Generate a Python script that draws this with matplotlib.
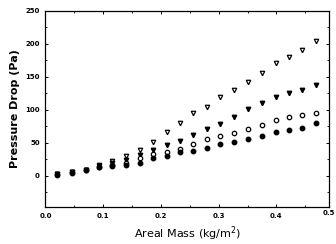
import matplotlib
matplotlib.use("Agg")
import matplotlib.pyplot as plt
from matplotlib.ticker import MultipleLocator

areal_mass = [0.0205, 0.0453, 0.0697, 0.0932, 0.116, 0.140, 0.163, 0.187, 0.210, 0.233,
              0.256, 0.279, 0.303, 0.327, 0.350, 0.375, 0.399, 0.422, 0.445, 0.468]
open_tri = [2.5, 5.5, 9.5, 17, 23, 31, 39, 51, 66, 81, 95, 104, 119, 131, 142, 156, 171, 181, 191, 204]
filled_tri = [2.5, 5.5, 9, 15, 19, 24, 32, 39, 47, 53, 62, 71, 79, 90, 101, 110, 119, 125, 131, 138]
open_circ = [2.5, 5.5, 9, 14, 17, 20, 27, 34, 36, 41, 49, 56, 61, 65, 71, 78, 85, 89, 92, 96]
filled_circ = [2, 5, 8.5, 13, 15, 17, 20, 27, 30, 37, 38, 43, 48, 52, 56, 61, 66, 70, 73, 80]

xticks = [0.0, 0.1, 0.2, 0.3, 0.4]
xtick_labels = ["0.0", "0.1", "0.2", "0.3", "0.4"]
yticks = [0, 50, 100, 150, 200, 250]

fig = plt.figure(figsize=(3.36, 2.44), dpi=100)
ax = fig.add_axes([0.1354, 0.1516, 0.979 - 0.1354, 0.955 - 0.1516])

ms = 3.2
ax.plot(areal_mass, open_tri, linestyle="none", marker="v", markersize=ms,
        markerfacecolor="white", markeredgecolor="black", markeredgewidth=0.9)
ax.plot(areal_mass, filled_tri, linestyle="none", marker="v", markersize=ms,
        color="black")
ax.plot(areal_mass, open_circ, linestyle="none", marker="o", markersize=ms,
        markerfacecolor="white", markeredgecolor="black", markeredgewidth=0.9)
ax.plot(areal_mass, filled_circ, linestyle="none", marker="o", markersize=ms,
        color="black")

ax.set_xlim(0, 0.491)
ax.set_ylim(-47, 250)
ax.set_xticks(xticks)
ax.set_xticklabels(xtick_labels)
ax.set_yticks(yticks)
ax.xaxis.set_minor_locator(MultipleLocator(0.05))
ax.yaxis.set_minor_locator(MultipleLocator(25))
ax.tick_params(which="both", direction="in", top=True, right=True, labelsize=5, pad=4)
ax.tick_params(which="major", length=2.5, width=0.7)
ax.tick_params(which="minor", length=1.5, width=0.6)
for lbl in ax.get_xticklabels() + ax.get_yticklabels():
    lbl.set_fontweight("bold")
for s in ax.spines.values():
    s.set_linewidth(0.9)

fig.text(0.998, 1 - 213 / 244, "0.5", ha="right", va="center",
         fontsize=5, fontweight="bold")

ax.set_ylabel("Pressure Drop (Pa)", fontsize=8, fontweight="bold", labelpad=4)
ax.set_xlabel("Areal Mass (kg/m$^2$)", fontsize=8, labelpad=4)

fig.savefig("out.png", dpi=100)
